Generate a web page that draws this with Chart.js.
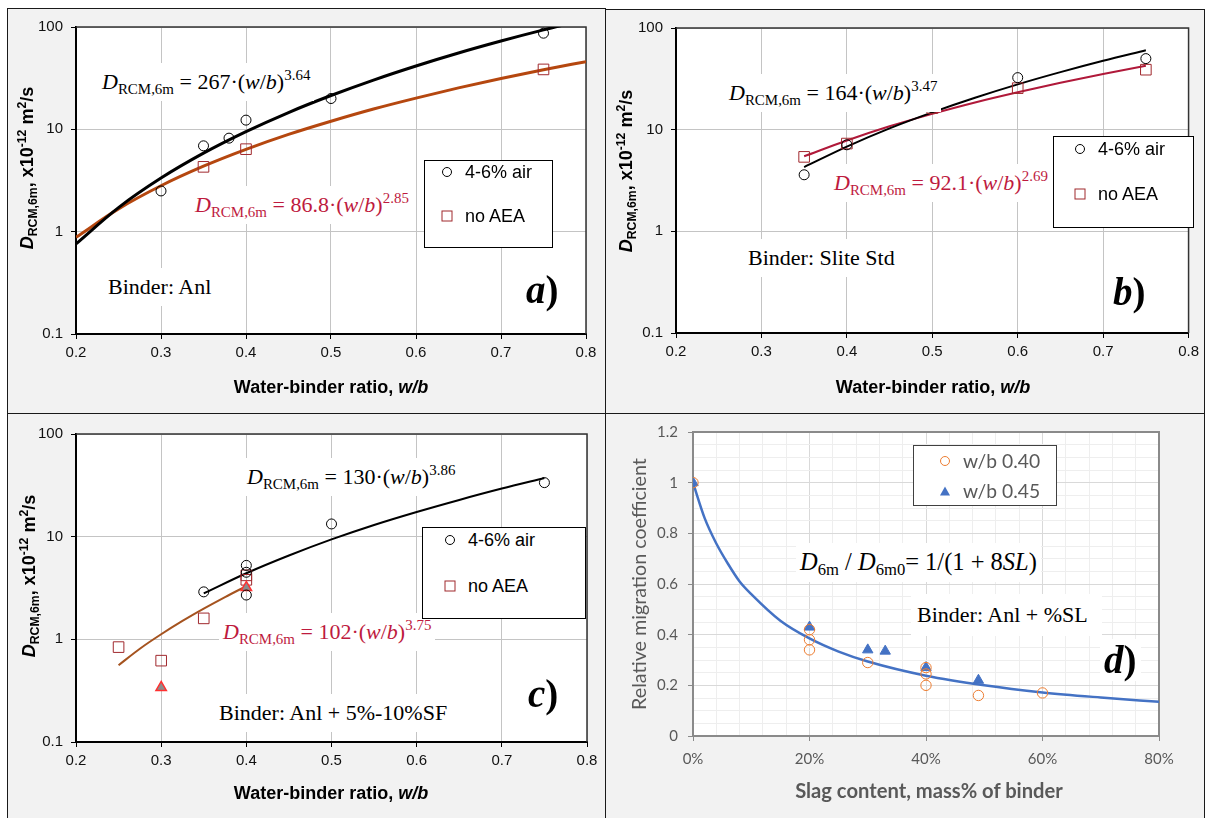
<!DOCTYPE html>
<html>
<head>
<meta charset="utf-8">
<script src="https://cdn.jsdelivr.net/npm/chart.js@4.4.1/dist/chart.umd.min.js"></script>
<style>
html, body { margin: 0; padding: 0; background: #fff; }
body { width: 1205px; height: 818px; position: relative; overflow: hidden; font-family: "Liberation Sans", Arial, sans-serif; }
canvas { position: absolute; background: #f2f2f2; }
.frame { position: absolute; border: 1px solid #1a1a1a; box-sizing: border-box; pointer-events: none; }
sub, sup { font-size: 0.68em; line-height: 0; position: relative; vertical-align: baseline; }
sub { top: 0.32em; }
sup { top: -0.6em; }
.eq { position: absolute; font-family: "Liberation Serif", "Times New Roman", serif; font-size: 22px; line-height: 22px; white-space: nowrap; color: #000; background: #fff; padding: 8px 4px; margin: -8px -4px; }
.red { color: #be1a3e; }
.tag { position: absolute; font-family: "Liberation Serif", "Times New Roman", serif; font-weight: bold; font-size: 39px; line-height: 38px; white-space: nowrap; }
.leg { position: absolute; background: #fff; border: 1px solid #000; box-sizing: border-box; }
.lt { position: absolute; font-size: 18px; line-height: 18px; white-space: nowrap; transform: translateY(-50%); color: #000; }
.mk { position: absolute; box-sizing: border-box; transform: translate(-50%, -50%); }
.circ { width: 10px; height: 10px; border: 1px solid #000; border-radius: 50%; }
.sq { width: 11px; height: 11px; border: 1px solid #a0282d; }
.yt { position: absolute; transform: translate(-50%, -50%) rotate(-90deg); font-weight: bold; font-size: 18px; line-height: 18px; white-space: nowrap; color: #000; }
.xt { position: absolute; transform: translate(-50%, -50%); font-weight: bold; font-size: 18px; line-height: 18px; white-space: nowrap; color: #000; }
.gray { color: #595959; font-family: Lato, "Open Sans", sans-serif; }
</style>
</head>
<body>
<canvas id="chartA" width="599" height="405" style="left:7px;top:8px"></canvas>
<canvas id="chartB" width="598" height="404" style="left:606px;top:9px"></canvas>
<canvas id="chartC" width="599" height="410" style="left:7px;top:413px"></canvas>
<canvas id="chartD" width="598" height="410" style="left:606px;top:413px"></canvas>

<div class="frame" style="left:7px;top:8px;width:599px;height:406px"></div>
<div class="frame" style="left:605px;top:9px;width:600px;height:405px"></div>
<div class="frame" style="left:7px;top:413px;width:599px;height:420px"></div>
<div class="frame" style="left:605px;top:413px;width:600px;height:420px"></div>

<!-- panel a -->
<div class="yt" style="left:27px;top:168px"><i>D</i><sub>RCM,6m</sub>, x10<sup>-12</sup> m<sup>2</sup>/s</div>
<div class="xt" style="left:331px;top:387px">Water-binder ratio, <i>w/b</i></div>
<div class="eq" style="left:102px;top:71px"><i>D</i><sub>RCM,6m</sub> = 267·(<i>w</i>/<i>b</i>)<sup>3.64</sup></div>
<div class="eq red" style="left:195px;top:194px"><i>D</i><sub>RCM,6m</sub> = 86.8·(<i>w</i>/<i>b</i>)<sup>2.85</sup></div>
<div class="eq" style="left:108px;top:276px">Binder: Anl</div>
<div class="tag" style="left:526px;top:271px"><i>a</i>)</div>
<div class="leg" style="left:424px;top:160px;width:129px;height:88px"></div>
<div class="mk circ" style="left:447px;top:172px"></div>
<div class="lt" style="left:465px;top:172px">4-6% air</div>
<div class="mk sq" style="left:447px;top:216px"></div>
<div class="lt" style="left:465px;top:216px">no AEA</div>

<!-- panel b -->
<div class="yt" style="left:626px;top:171px"><i>D</i><sub>RCM,6m</sub>, x10<sup>-12</sup> m<sup>2</sup>/s</div>
<div class="xt" style="left:933px;top:387px">Water-binder ratio, <i>w/b</i></div>
<div class="eq" style="left:729px;top:82px"><i>D</i><sub>RCM,6m</sub> = 164·(<i>w</i>/<i>b</i>)<sup>3.47</sup></div>
<div class="eq red" style="left:834px;top:172px"><i>D</i><sub>RCM,6m</sub> = 92.1·(<i>w</i>/<i>b</i>)<sup>2.69</sup></div>
<div class="eq" style="left:748px;top:247px">Binder: Slite Std</div>
<div class="tag" style="left:1113px;top:273px"><i>b</i>)</div>
<div class="leg" style="left:1053px;top:136px;width:141px;height:92px"></div>
<div class="mk circ" style="left:1080px;top:149px"></div>
<div class="lt" style="left:1098px;top:149px">4-6% air</div>
<div class="mk sq" style="left:1080px;top:194px"></div>
<div class="lt" style="left:1098px;top:194px">no AEA</div>

<!-- panel c -->
<div class="yt" style="left:29px;top:576px"><i>D</i><sub>RCM,6m</sub>, x10<sup>-12</sup> m<sup>2</sup>/s</div>
<div class="xt" style="left:331px;top:793px">Water-binder ratio, <i>w/b</i></div>
<div class="eq" style="left:247px;top:466px"><i>D</i><sub>RCM,6m</sub> = 130·(<i>w</i>/<i>b</i>)<sup>3.86</sup></div>
<div class="eq red" style="left:223px;top:621px"><i>D</i><sub>RCM,6m</sub> = 102·(<i>w</i>/<i>b</i>)<sup>3.75</sup></div>
<div class="eq" style="left:219px;top:702px">Binder: Anl + 5%-10%SF</div>
<div class="tag" style="left:528px;top:675px"><i>c</i>)</div>
<div class="leg" style="left:422px;top:527px;width:164px;height:92px"></div>
<div class="mk circ" style="left:450px;top:540px"></div>
<div class="lt" style="left:468px;top:540px">4-6% air</div>
<div class="mk sq" style="left:450px;top:586px"></div>
<div class="lt" style="left:468px;top:586px">no AEA</div>

<!-- panel d -->
<div class="yt gray" style="left:639px;top:584px;font-weight:normal" data-w="252">Relative migration coefficient</div>
<div class="xt gray" style="left:929px;top:790px" data-w="268">Slag content, mass% of binder</div>
<div class="eq" style="left:800px;top:551px"><span data-w="237"><i>D</i><sub>6m</sub> / <i>D</i><sub>6m0</sub>= 1/(1 + 8<i>SL</i>)</span></div>
<div class="eq" style="left:917px;top:604px;padding:10px 14px 10px 6px;margin:-10px -14px -10px -6px">Binder: Anl + %SL</div>
<div class="tag" style="left:1104px;top:641px;background:#fff;padding:2px 4px;margin:-2px -4px"><i>d</i>)</div>
<div class="leg" style="left:913px;top:445px;width:144px;height:61px;border-color:#404040"></div>
<div class="mk circ" style="left:945px;top:461px;border-color:#ed7d31"></div>
<div class="lt gray" style="left:963px;top:461px" data-w="77">w/b 0.40</div>
<div class="mk" style="left:945px;top:491px;width:0;height:0;border-left:5px solid transparent;border-right:5px solid transparent;border-bottom:9px solid #4472c4"></div>
<div class="lt gray" style="left:963px;top:491px" data-w="77">w/b 0.45</div>

<script>
// panel a: Binder Anl
const aAirX = [0.3, 0.35, 0.38, 0.4, 0.5, 0.75];
const aAirY = [2.5, 6.9, 8.2, 12.3, 20, 87];
const aNoAeaX = [0.35, 0.4, 0.75];
const aNoAeaY = [4.3, 6.4, 38.5];
const aFitX = [0.2, 0.25, 0.3, 0.35, 0.4, 0.45, 0.5, 0.55, 0.6, 0.65, 0.7, 0.75, 0.8];
const aAirFitY = [0.76, 1.72, 3.34, 5.85, 9.5, 14.6, 21.4, 30.3, 41.6, 55.7, 72.9, 93.7, 118];
const aNoAeaFitY = [0.88, 1.67, 2.81, 4.36, 6.37, 8.92, 12.0, 15.8, 20.2, 25.4, 31.4, 38.2, 45.9];

// panel b: Binder Slite Std
const bX = [0.35, 0.4, 0.5, 0.6, 0.75];
const bAirY = [3.6, 7.1, 18.7, 32.5, 50];
const bNoAeaY = [5.4, 7.3, 16.3, 25.6, 38.9];
const bFitX = [0.35, 0.4, 0.45, 0.5, 0.55, 0.6, 0.65, 0.7, 0.75];
const bAirFitY = [4.29, 6.82, 10.3, 14.8, 20.6, 27.9, 36.8, 47.6, 60.4];
const bNoAeaFitY = [5.47, 7.83, 10.8, 14.3, 18.5, 23.3, 28.9, 35.3, 42.5];

// panel c: Binder Anl + 5%-10%SF
const cAirX = [0.35, 0.4, 0.4, 0.4, 0.5, 0.75];
const cAirY = [2.9, 5.25, 4.5, 2.7, 13.3, 33.6];
const cNoAeaX = [0.25, 0.3, 0.35, 0.4, 0.4];
const cNoAeaY = [0.84, 0.62, 1.6, 4.2, 3.8];
const cTriX = [0.3, 0.4];
const cTriY = [0.34, 3.2];
const cAirFitX = [0.35, 0.4, 0.45, 0.5, 0.55, 0.6, 0.65, 0.7, 0.75];
const cAirFitY = [2.8, 4.4, 6.55, 9.4, 13.0, 17.4, 22.8, 29.4, 37.2];
const cNoAeaFitX = [0.25, 0.275, 0.3, 0.325, 0.35, 0.375, 0.4];
const cNoAeaFitY = [0.56, 0.81, 1.12, 1.51, 1.99, 2.58, 3.3];

// panel d: slag content (%) vs relative migration coefficient
const d40X = [0, 20, 20, 20, 30, 40, 40, 40, 49, 60];
const d40Y = [1.0, 0.42, 0.38, 0.34, 0.29, 0.27, 0.245, 0.2, 0.16, 0.17];
const d45X = [0, 20, 30, 33, 40, 49];
const d45Y = [1.0, 0.43, 0.34, 0.335, 0.27, 0.22];
const dFitX = [0, 2, 4, 6, 8, 10, 15, 20, 25, 30, 40, 50, 60, 70, 80];
const dFitY = [1.0, 0.86, 0.76, 0.68, 0.61, 0.56, 0.455, 0.385, 0.333, 0.294, 0.238, 0.2, 0.172, 0.152, 0.135];

const logTicks = [0.1, 1, 10, 100];

Chart.defaults.font.family = '"Liberation Sans", Arial, sans-serif';
Chart.defaults.animation = false;

// white plot area + top/right frame lines
const plotBox = {
  id: 'plotBox',
  beforeDraw(chart) {
    const { ctx, chartArea: ca } = chart;
    ctx.save();
    ctx.fillStyle = '#ffffff';
    ctx.fillRect(ca.left, ca.top, ca.width, ca.height);
    ctx.restore();
  },
  beforeDatasetsDraw(chart, args, opts) {
    const { ctx, chartArea: ca } = chart;
    ctx.save();
    ctx.strokeStyle = opts.color;
    ctx.lineWidth = opts.width;
    ctx.beginPath();
    ctx.moveTo(ca.left, ca.top);
    ctx.lineTo(ca.right, ca.top);
    ctx.lineTo(ca.right, ca.bottom);
    ctx.stroke();
    ctx.restore();
  }
};

function pts(xs, ys) {
  return xs.map((x, i) => ({ x: x, y: ys[i] }));
}

function markers(xs, ys, style, color, fill, radius, bw) {
  return {
    data: pts(xs, ys), showLine: false, pointStyle: style,
    pointRadius: radius, pointHoverRadius: radius,
    pointBorderColor: color, pointBackgroundColor: fill, pointBorderWidth: bw || 1
  };
}

function curve(xs, ys, color, width) {
  return {
    data: pts(xs, ys), showLine: true, borderColor: color, borderWidth: width,
    pointRadius: 0, pointHoverRadius: 0, fill: false, cubicInterpolationMode: 'monotone'
  };
}

function wbOptions(p) {
  const grid = { color: '#c4c4c4', lineWidth: 1, tickColor: '#000', tickLength: 5 };
  const border = { color: '#000', width: 2 };
  return {
    responsive: false, devicePixelRatio: 1, animation: false,
    layout: { padding: { left: 0, top: p.top, right: p.right, bottom: 0 } },
    plugins: { legend: { display: false }, tooltip: { enabled: false }, plotBox: { color: '#333', width: 1.5 } },
    scales: {
      x: {
        type: 'linear', min: 0.2, max: 0.8,
        afterFit: s => { s.height = p.xH; },
        ticks: { stepSize: 0.1, autoSkip: false, maxRotation: 0, padding: 5, color: '#111', font: { size: 15 }, callback: v => v.toFixed(1) },
        grid: grid, border: border
      },
      y: {
        type: 'logarithmic', min: 0.1, max: 100,
        afterFit: s => { s.width = p.yW; },
        afterBuildTicks: s => { s.ticks = logTicks.map(v => ({ value: v })); },
        ticks: { padding: 8, color: '#111', font: { size: 15 }, callback: v => String(v) },
        grid: grid, border: border
      }
    }
  };
}

const none = 'rgba(0,0,0,0)';

new Chart(document.getElementById('chartA'), {
  type: 'scatter',
  data: { datasets: [
    markers(aAirX, aAirY, 'circle', '#000', none, 5),
    markers(aNoAeaX, aNoAeaY, 'rect', '#a0282d', none, 7.5),
    curve(aFitX, aAirFitY, '#000', 3),
    curve(aFitX, aNoAeaFitY, '#b5470f', 3)
  ] },
  options: wbOptions({ top: 19, right: 20, yW: 69, xH: 79 }),
  plugins: [plotBox]
});

new Chart(document.getElementById('chartB'), {
  type: 'scatter',
  data: { datasets: [
    markers(bX, bAirY, 'circle', '#000', none, 5),
    markers(bX, bNoAeaY, 'rect', '#a0282d', none, 7.5),
    curve(bFitX, bAirFitY, '#000', 2),
    curve(bFitX, bNoAeaFitY, '#b0193a', 2)
  ] },
  options: wbOptions({ top: 19, right: 14, yW: 70, xH: 80 }),
  plugins: [plotBox]
});

new Chart(document.getElementById('chartC'), {
  type: 'scatter',
  data: { datasets: [
    markers(cAirX, cAirY, 'circle', '#000', none, 5),
    markers(cTriX, cTriY, 'triangle', '#ff3030', '#8c8c8c', 6, 1.5),
    markers(cNoAeaX, cNoAeaY, 'rect', '#a0282d', none, 7.5),
    curve(cAirFitX, cAirFitY, '#000', 2),
    curve(cNoAeaFitX, cNoAeaFitY, '#a5531f', 2)
  ] },
  options: wbOptions({ top: 21, right: 19, yW: 69, xH: 81 }),
  plugins: [plotBox]
});

const dTickFont = { family: 'Lato, "Open Sans", sans-serif', size: 15 };
const isMajorX = c => c.tick && Math.round(c.tick.value) % 20 === 0;
const isMajorY = c => c.tick && Math.round(c.tick.value * 100) % 20 === 0;

new Chart(document.getElementById('chartD'), {
  type: 'scatter',
  data: { datasets: [
    markers(d40X, d40Y, 'circle', '#ed7d31', none, 5.2),
    markers(d45X, d45Y, 'triangle', '#4472c4', '#4472c4', 6),
    curve(dFitX, dFitY, '#4472c4', 2.5)
  ] },
  options: {
    responsive: false, devicePixelRatio: 1, animation: false,
    layout: { padding: { left: 0, top: 19, right: 45, bottom: 0 } },
    plugins: { legend: { display: false }, tooltip: { enabled: false }, plotBox: { color: '#8a8a8a', width: 2 } },
    scales: {
      x: {
        type: 'linear', min: 0, max: 80,
        afterFit: s => { s.height = 87; },
        ticks: { stepSize: 4, autoSkip: false, maxRotation: 0, padding: 9, color: '#595959', font: dTickFont,
          callback: v => (Math.round(v) % 20 === 0 ? Math.round(v) + '%' : '') },
        grid: { color: c => (isMajorX(c) ? '#d9d9d9' : '#eeeeee'), lineWidth: 1,
          tickColor: c => (isMajorX(c) ? '#8a8a8a' : none), tickLength: 5 },
        border: { color: '#8a8a8a', width: 2 }
      },
      y: {
        type: 'linear', min: 0, max: 1.2,
        afterFit: s => { s.width = 87; },
        ticks: { stepSize: 0.05, autoSkip: false, padding: 10, color: '#595959', font: dTickFont,
          callback: v => (Math.round(v * 100) % 20 === 0 ? String(Math.round(v * 10) / 10) : '') },
        grid: { color: c => (isMajorY(c) ? '#d9d9d9' : '#eeeeee'), lineWidth: 1,
          tickColor: c => (isMajorY(c) ? '#8a8a8a' : none), tickLength: 5 },
        border: { color: '#8a8a8a', width: 2 }
      }
    }
  },
  plugins: [plotBox]
});

// fit substitute-font texts to the widths measured on the reference
function fitTexts() {
  document.querySelectorAll('[data-w]').forEach(el => {
    const target = Number(el.dataset.w);
    const w = el.offsetWidth;
    if (!w) return;
    const fs = parseFloat(getComputedStyle(el).fontSize);
    el.style.fontSize = (fs * target / w).toFixed(2) + 'px';
  });
}
fitTexts();
</script>
</body>
</html>
